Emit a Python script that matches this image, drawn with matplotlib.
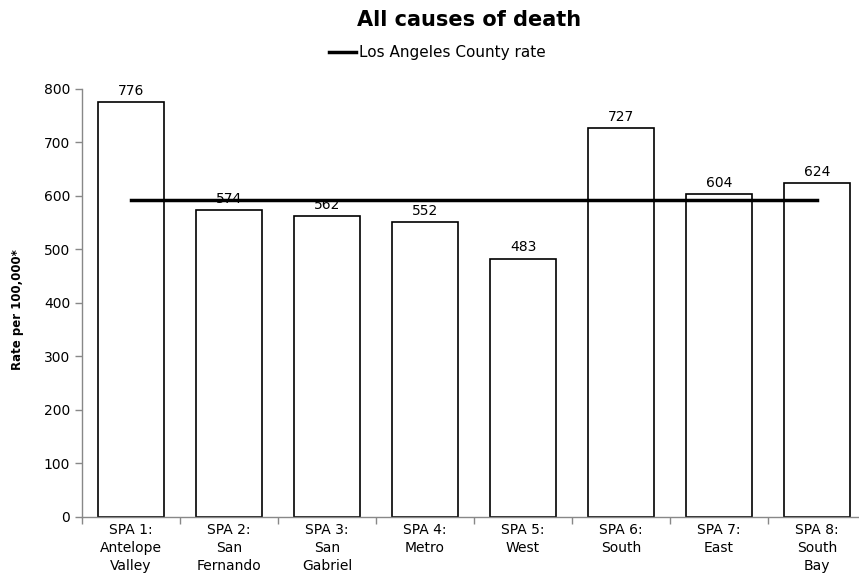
import matplotlib
matplotlib.use("Agg")
import matplotlib.pyplot as plt
from matplotlib.lines import Line2D
import numpy as np

categories = ["SPA 1:\nAntelope\nValley", "SPA 2:\nSan\nFernando", "SPA 3:\nSan\nGabriel",
              "SPA 4:\nMetro", "SPA 5:\nWest", "SPA 6:\nSouth", "SPA 7:\nEast",
              "SPA 8:\nSouth\nBay"]
rates = [776, 574, 562, 552, 483, 727, 604, 624]
county_rate = 593
y_ticks = [0, 100, 200, 300, 400, 500, 600, 700, 800]

plt.rcParams["font.family"] = ["DejaVu Sans"]

fig = plt.figure(figsize=(8.59, 5.79), dpi=100)
ax = fig.add_axes([0.0955, 0.1071, 0.9127, 0.7392])

x = np.arange(len(categories))
ax.bar(x, rates, width=0.67, facecolor="white", edgecolor="black", linewidth=1.2, zorder=2)
for xi, v in zip(x, rates):
    ax.annotate(f"{v}", (xi, v), xytext=(0, 3), textcoords="offset points",
                ha="center", va="bottom", fontsize=10, zorder=4)

ax.plot([x[0], x[-1]], [county_rate, county_rate], color="black", linewidth=2.5, zorder=3)

ax.set_xlim(-0.5, len(categories) - 0.5)
ax.set_ylim(0, 800)
ax.set_yticks(y_ticks)
ax.tick_params(axis="y", labelsize=10, color="#888888", length=5, width=1)
ax.set_xticks(x)
ax.set_xticklabels(categories, fontsize=10, linespacing=1.37)
ax.tick_params(axis="x", which="major", length=0, pad=4)
ax.set_xticks(np.arange(-0.5, len(categories), 1.0), minor=True)
ax.tick_params(axis="x", which="minor", length=5, color="#888888", width=1)

for side in ("top", "right"):
    ax.spines[side].set_visible(False)
for side in ("left", "bottom"):
    ax.spines[side].set_color("#888888")
    ax.spines[side].set_linewidth(1)

fig.text(18 / 859, 1 - 310 / 579, "Rate per 100,000*", rotation=90, fontsize=8.5,
         fontweight="bold", ha="center", va="center")

fig.text(469 / 859, 1 - 20 / 579, "All causes of death", fontsize=15, fontweight="bold",
         ha="center", va="center")

handle = Line2D([], [], color="black", linewidth=2.5)
fig.legend([handle], ["Los Angeles County rate"], loc="center", bbox_to_anchor=(437 / 859, 1 - 53 / 579),
           frameon=False, fontsize=11, handlelength=1.8, handletextpad=0.15, borderpad=0)

fig.savefig("out.png", dpi=100, facecolor="white")
